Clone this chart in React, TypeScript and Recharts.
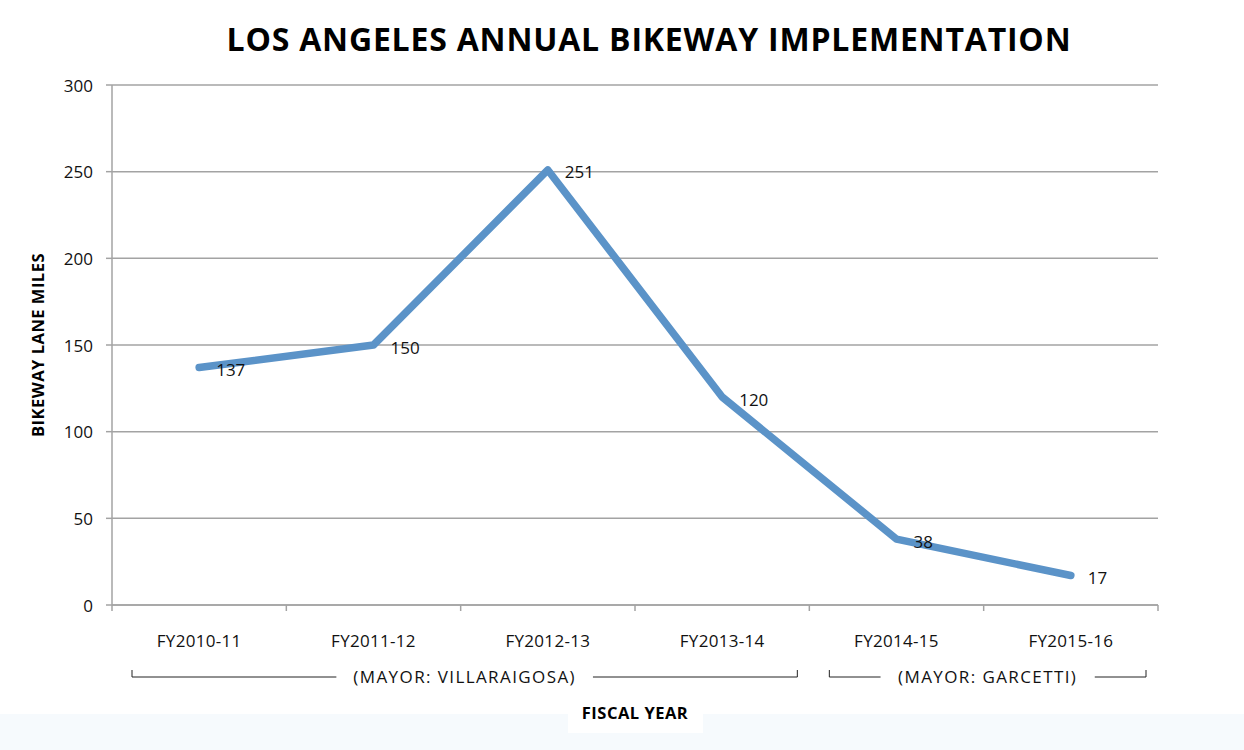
import React from "react";
import {
  LineChart,
  Line,
  XAxis,
  YAxis,
  CartesianGrid,
  LabelList,
} from "recharts";

const categories = ["FY2010-11", "FY2011-12", "FY2012-13", "FY2013-14", "FY2014-15", "FY2015-16"];
const miles = [137, 150, 251, 120, 38, 17];
const mayors = ["VILLARAIGOSA", "VILLARAIGOSA", "VILLARAIGOSA", "VILLARAIGOSA", "GARCETTI", "GARCETTI"];
const yTicks = [0, 50, 100, 150, 200, 250, 300];

const data = categories.map((c, i) => ({ fy: c, miles: miles[i], mayor: mayors[i] }));

const W = 1244;
const H = 750;
const margin = { top: 85, right: 86, bottom: 0, left: 52 };
const yAxisWidth = 60;
const xAxisHeight = 145;
const FONT = "'Open Sans', 'Liberation Sans', sans-serif";
const GRID = "#a3a3a3";
const LINE = "#5b93c8";
const TEXT = "#111";

const XTick = (props: any) => {
  const { x, y, payload, index } = props;
  const n = categories.length;
  const fallbackHalf = (W - margin.left - yAxisWidth - margin.right) / n / 2;
  const half = payload && payload.offset ? payload.offset : fallbackHalf;
  const i = typeof index === "number" ? index : payload.index;
  const ay = y - 8; // axis line position
  const els: any[] = [];
  els.push(<line key="tl" x1={x - half} x2={x - half} y1={ay} y2={ay + 6} stroke={GRID} strokeWidth={1.5} />);
  if (i === n - 1) {
    els.push(<line key="tr" x1={x + half} x2={x + half} y1={ay} y2={ay + 6} stroke={GRID} strokeWidth={1.5} />);
  }
  els.push(
    <text key="lbl" x={x} y={ay + 35} textAnchor="middle" dominantBaseline="central" fontFamily={FONT} fontSize={17} fill={TEXT} letterSpacing={0.3}>
      {payload.value}
    </text>
  );
  if (i === 0 || mayors[i] !== mayors[i - 1]) {
    let j = i;
    while (j + 1 < n && mayors[j + 1] === mayors[i]) j++;
    const x0 = x - half + 20;
    const x1 = x + (j - i) * 2 * half + half - 12;
    const by = ay + 72;
    const label = `(MAYOR: ${mayors[i]})`;
    const cx = (x0 + x1) / 2;
    const tw = label.length * 10.6;
    const gap = tw / 2 + 17;
    els.push(
      <g key="br">
        <line x1={x0} x2={cx - gap} y1={by} y2={by} stroke="#222" strokeWidth={1} />
        <line x1={cx + gap} x2={x1} y1={by} y2={by} stroke="#222" strokeWidth={1} />
        <line x1={x0} x2={x0} y1={by - 7} y2={by} stroke="#222" strokeWidth={1} />
        <line x1={x1} x2={x1} y1={by - 7} y2={by} stroke="#222" strokeWidth={1} />
        <text x={cx} y={by - 1} textAnchor="middle" dominantBaseline="central" fontFamily={FONT} fontSize={17} fill={TEXT} letterSpacing={1.4}>
          {label}
        </text>
      </g>
    );
  }
  return <g>{els}</g>;
};

const YTick = (props: any) => {
  const { x, y, payload } = props;
  return (
    <text x={x} y={y} textAnchor="end" dominantBaseline="central" fontFamily={FONT} fontSize={17} fill={TEXT}>
      {payload.value}
    </text>
  );
};

const ValueLabel = (props: any) => {
  const { x, y, value } = props;
  return (
    <text x={x + 17} y={y + 2} textAnchor="start" dominantBaseline="central" fontFamily={FONT} fontSize={17} fill={TEXT}>
      {value}
    </text>
  );
};

const YLabel = (props: any) => {
  const vb = props.viewBox || {};
  const cx = vb.x - 15;
  const cy = vb.y + vb.height / 2;
  return (
    <text x={cx} y={cy} transform={`rotate(-90 ${cx} ${cy})`} textAnchor="middle" dominantBaseline="central" fontFamily={FONT} fontWeight={700} fontSize={16.5} fill="#000" letterSpacing={0.5}>
      BIKEWAY LANE MILES
    </text>
  );
};

const XLabel = (props: any) => {
  const vb = props.viewBox || {};
  const cx = vb.x + vb.width / 2;
  const cy = vb.y + 107;
  return (
    <g>
      <rect x={cx - 67} y={cy - 22} width={135} height={43} fill="#ffffff" />
      <text x={cx} y={cy} textAnchor="middle" dominantBaseline="central" fontFamily={FONT} fontWeight={700} fontSize={16.5} fill="#000" letterSpacing={0.5}>
        FISCAL YEAR
      </text>
    </g>
  );
};

export default function App() {
  return (
    <div
      style={{
        position: "absolute",
        left: 0,
        top: 0,
        width: W,
        height: H,
        background: "linear-gradient(to bottom, #ffffff 0px, #ffffff 714px, #f6fafd 714px, #f6fafd 750px)",
      }}
    >
      <div
        style={{
          position: "absolute",
          left: 0,
          top: 14,
          width: W,
          paddingLeft: 54,
          boxSizing: "border-box",
          textAlign: "center",
          fontFamily: FONT,
          fontWeight: 700,
          fontSize: 32,
          letterSpacing: 0.8,
          color: "#000",
          lineHeight: "50px",
        }}
      >
        LOS ANGELES ANNUAL BIKEWAY IMPLEMENTATION
      </div>
      <LineChart width={W} height={H} data={data} margin={margin} style={{ position: "absolute", left: 0, top: 0 }}>
        <CartesianGrid vertical={false} stroke={GRID} strokeWidth={1.5} />
        <XAxis
          dataKey="fy"
          scale="band"
          height={xAxisHeight}
          interval={0}
          tickLine={false}
          axisLine={{ stroke: GRID, strokeWidth: 1.5 }}
          tick={<XTick />}
          label={<XLabel />}
        />
        <YAxis
          width={yAxisWidth}
          domain={[0, 300]}
          ticks={yTicks}
          interval={0}
          tickSize={6}
          tickMargin={13}
          tickLine={{ stroke: GRID, strokeWidth: 1.5 }}
          axisLine={{ stroke: GRID, strokeWidth: 1.5 }}
          tick={<YTick />}
          label={<YLabel />}
        />
        <Line
          type="linear"
          dataKey="miles"
          stroke={LINE}
          strokeWidth={7.5}
          strokeLinecap="round"
          strokeLinejoin="round"
          dot={false}
          activeDot={false}
          isAnimationActive={false}
        >
          <LabelList dataKey="miles" content={<ValueLabel />} />
        </Line>
      </LineChart>
    </div>
  );
}
